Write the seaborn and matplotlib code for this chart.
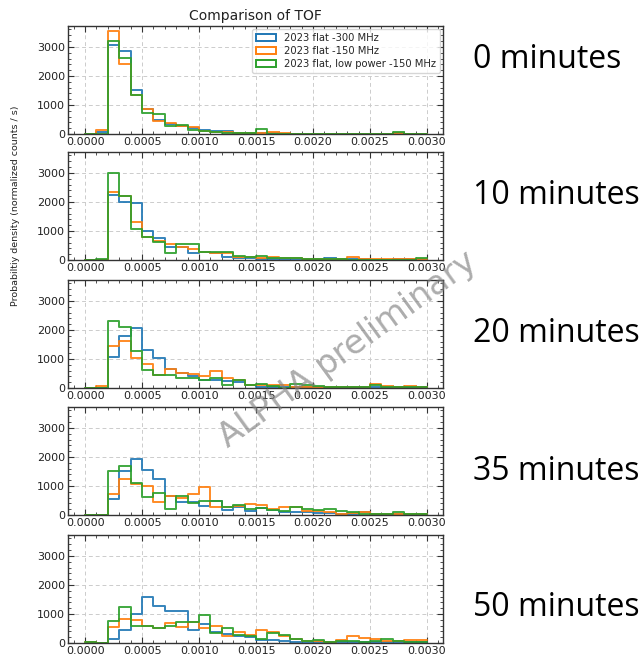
import numpy as np
import pandas as pd
import matplotlib
matplotlib.use("Agg")
import matplotlib.pyplot as plt
from matplotlib.patches import Patch
from matplotlib.ticker import AutoMinorLocator, FormatStrFormatter, MultipleLocator
import seaborn as sns

# ---------------- data ----------------
bin_edges = [round(i * 0.0001, 6) for i in range(31)]
series_labels = ["2023 flat -300 MHz", "2023 flat -150 MHz", "2023 flat, low power -150 MHz"]
panel_labels = ["0 minutes", "10 minutes", "20 minutes", "35 minutes", "50 minutes"]

blue0 = [0, 60, 3080, 2850, 1500, 870, 490, 345, 260, 200, 150, 110, 90, 50, 40, 30, 20, 15, 10, 10, 10, 5, 5, 5, 5, 5, 5, 20, 5, 5]
orange0 = [0, 130, 3560, 2410, 1360, 870, 440, 380, 270, 240, 90, 70, 60, 50, 50, 30, 60, 20, 10, 10, 5, 5, 5, 5, 5, 5, 5, 30, 5, 5]
green0 = [0, 0, 3200, 2620, 1360, 720, 700, 290, 320, 150, 90, 60, 50, 40, 40, 170, 10, 5, 5, 5, 5, 5, 5, 5, 5, 5, 5, 60, 5, 5]

blue1 = [0, 10, 2230, 2000, 1950, 1010, 770, 460, 460, 250, 290, 230, 110, 80, 60, 50, 40, 30, 20, 20, 20, 60, 20, 20, 20, 10, 10, 30, 20, 10]
orange1 = [0, 10, 2330, 2210, 1320, 800, 660, 540, 460, 370, 290, 250, 250, 115, 90, 80, 90, 70, 60, 40, 40, 40, 40, 90, 30, 20, 20, 20, 20, 20]
green1 = [0, 50, 3000, 2210, 1060, 800, 610, 230, 540, 540, 290, 290, 290, 140, 90, 140, 80, 70, 60, 30, 20, 20, 20, 10, 10, 10, 10, 10, 10, 80]

blue2 = [0, 0, 1080, 1800, 2060, 1300, 1050, 640, 500, 430, 260, 260, 250, 200, 120, 20, 30, 20, 20, 20, 20, 30, 30, 50, 30, 20, 20, 20, 20, 20]
orange2 = [0, 60, 1450, 1630, 1050, 810, 460, 660, 500, 490, 410, 580, 350, 290, 120, 120, 90, 120, 30, 30, 30, 20, 20, 30, 20, 140, 60, 30, 60, 20]
green2 = [0, 0, 2300, 2090, 1260, 620, 465, 465, 350, 330, 260, 330, 120, 290, 120, 150, 80, 10, 140, 120, 60, 40, 40, 30, 30, 120, 20, 20, 20, 20]

blue3 = [0, 0, 550, 1520, 1920, 1540, 1230, 660, 460, 460, 320, 490, 180, 260, 125, 240, 180, 110, 90, 90, 70, 60, 40, 30, 90, 40, 20, 30, 20, 20]
orange3 = [0, 0, 740, 1230, 1060, 1000, 460, 660, 570, 720, 970, 260, 260, 300, 380, 340, 200, 260, 260, 150, 150, 90, 40, 70, 90, 20, 20, 50, 30, 20]
green3 = [0, 0, 1520, 1690, 1090, 630, 750, 200, 660, 400, 490, 490, 285, 340, 200, 230, 180, 125, 285, 200, 170, 200, 125, 90, 30, 30, 40, 90, 50, 50]

blue4 = [0, 0, 140, 450, 1000, 1590, 1260, 1090, 1090, 460, 660, 370, 310, 250, 200, 115, 100, 80, 45, 30, 30, 30, 30, 30, 20, 30, 20, 20, 20, 20]
orange4 = [50, 0, 540, 810, 780, 600, 510, 680, 540, 740, 510, 600, 250, 370, 290, 460, 390, 250, 140, 80, 80, 50, 115, 250, 185, 140, 80, 60, 115, 115]
green4 = [40, 0, 750, 1240, 600, 600, 520, 600, 740, 740, 970, 340, 520, 290, 250, 140, 350, 280, 140, 80, 100, 20, 60, 80, 40, 70, 140, 60, 20, 20]

panels = [
    (blue0, orange0, green0),
    (blue1, orange1, green1),
    (blue2, orange2, green2),
    (blue3, orange3, green3),
    (blue4, orange4, green4),
]
colors = ["#1f77b4", "#ff7f0e", "#2ca02c"]

# ---------------- style ----------------
sns.set_style("white")
plt.rcParams["font.family"] = ["DejaVu Sans"]

W, H = 644, 655
fig = plt.figure(figsize=(W / 100, H / 100), dpi=100)

tops = [26, 152, 280, 407, 535]
ax_h = 108
left_px, right_px = 68, 443
text_y = [60, 196, 333, 471, 607]

centers = [(bin_edges[k] + bin_edges[k + 1]) / 2 for k in range(len(bin_edges) - 1)]

axes = []
for i, (top, vals) in enumerate(zip(tops, panels)):
    ax = fig.add_axes([left_px / W, 1 - (top + ax_h) / H, (right_px - left_px) / W, ax_h / H])
    axes.append(ax)
    for v, c, lab in zip(vals, colors, series_labels):
        df = pd.DataFrame({"tof": centers, "w": v})
        sns.histplot(data=df, x="tof", weights="w", bins=bin_edges, element="step",
                     fill=False, color=c, linewidth=1.4, ax=ax, alpha=0.9)
    ax.set_xlim(-0.00015, 0.00314)
    ax.set_ylim(0, 3720)
    ax.set_xlabel("")
    ax.set_ylabel("")
    ax.xaxis.set_major_locator(MultipleLocator(0.0005))
    ax.xaxis.set_major_formatter(FormatStrFormatter("%.4f"))
    ax.yaxis.set_major_locator(MultipleLocator(1000))
    ax.xaxis.set_minor_locator(AutoMinorLocator(5))
    ax.yaxis.set_minor_locator(AutoMinorLocator(5))
    ax.tick_params(which="both", direction="in", top=True, right=True, bottom=True, left=True,
                   colors="#333333", labelcolor="#222222")
    ax.tick_params(which="major", length=4, width=0.8, labelsize=8, pad=2)
    ax.tick_params(which="minor", length=2, width=0.6)
    ax.grid(True, which="major", linestyle=(0, (4, 3)), color="#cccccc", linewidth=0.7)
    ax.set_axisbelow(True)
    for s in ax.spines.values():
        s.set_color("#333333")
        s.set_linewidth(1.0)
    fig.text(473 / W, 1 - text_y[i] / H, panel_labels[i], fontsize=23, family="Open Sans",
             ha="left", va="center", color="black")

axes[0].set_title("Comparison of TOF", fontsize=10, pad=4, color="#222222")
handles = [Patch(facecolor="none", edgecolor=c, linewidth=1.4) for c in colors]
axes[0].legend(handles, series_labels, loc="upper right", fontsize=7.2, frameon=True,
               handlelength=2.0, borderaxespad=0.3, labelspacing=0.3)

axes[1].set_ylabel("Probabiltiy density (normalized counts / s)", fontsize=6.8, color="#222222")
axes[1].yaxis.set_label_coords(-0.128, 0.5)

fig.text(348 / W, 1 - 350 / H, "ALPHA preliminary", fontsize=24, color="gray", alpha=0.65,
         rotation=36, ha="center", va="center", zorder=100)

fig.savefig("out.png", dpi=100)
